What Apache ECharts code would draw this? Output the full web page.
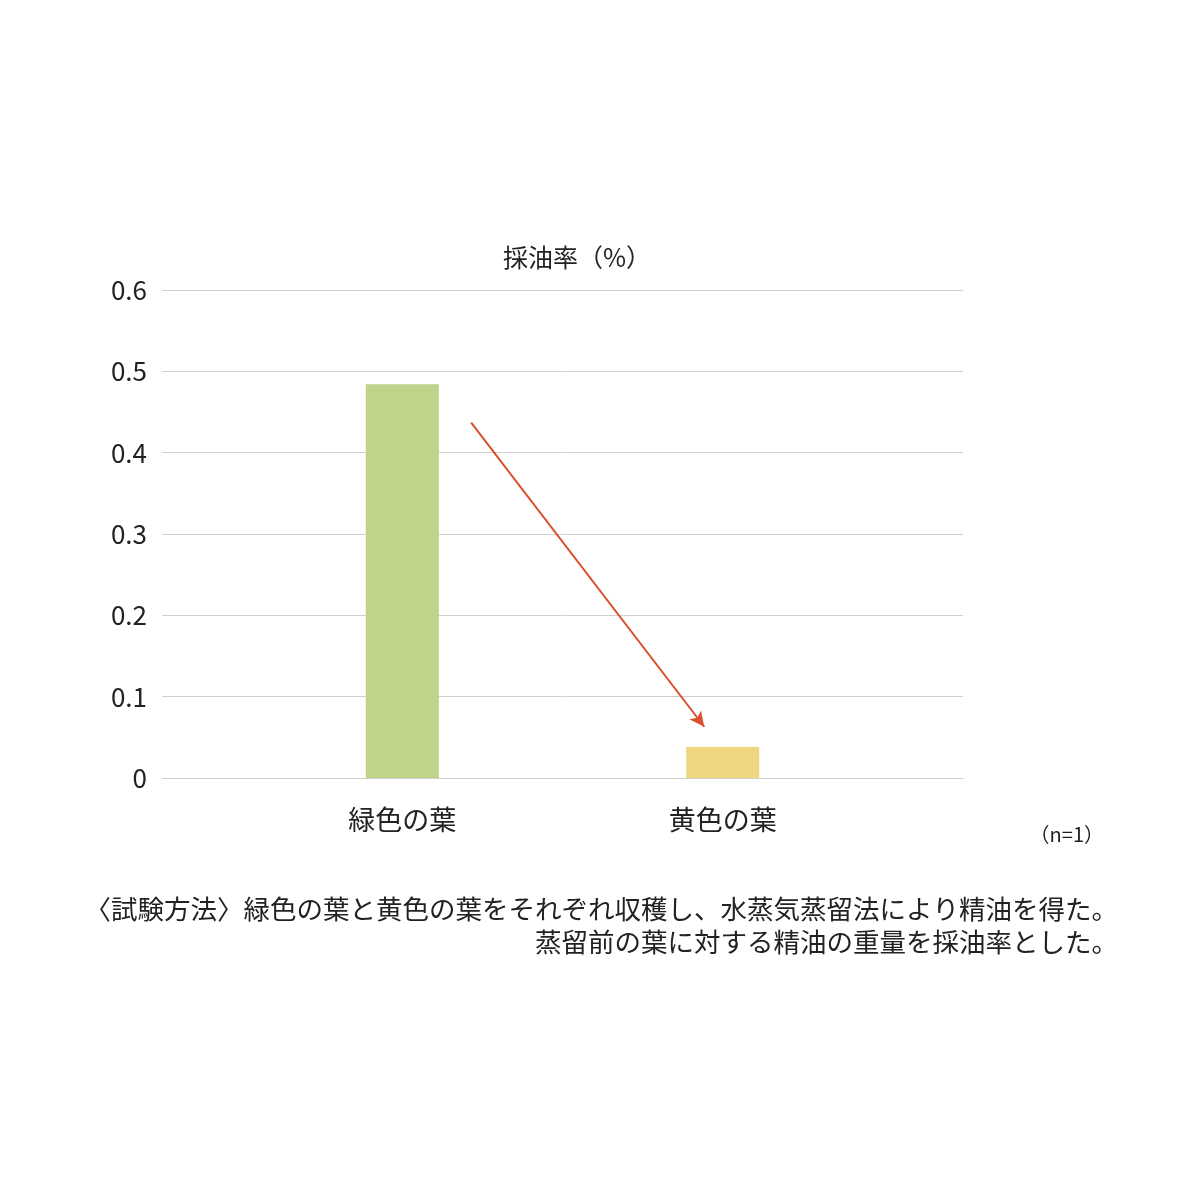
<!DOCTYPE html>
<html>
<head>
<meta charset="utf-8">
<script src="https://cdn.jsdelivr.net/npm/echarts@6/dist/echarts.min.js"></script>
<style>
html,body{margin:0;padding:0;background:#fff;}
#chart{width:1200px;height:1200px;}
</style>
</head>
<body>
<div id="chart"></div>
<script>
// ---- data ----
const categories = ['緑色の葉', '黄色の葉'];
const oilYield = [0.484, 0.038];
const barColors = ['#BFD38A', '#EFD680'];
const yTicks = [0, 0.1, 0.2, 0.3, 0.4, 0.5, 0.6];
const chartTitle = '採油率（%）';
const sampleNote = '（n=1）';
const footnoteLines = [
  '〈試験方法〉緑色の葉と黄色の葉をそれぞれ収穫し、水蒸気蒸留法により精油を得た。',
  '蒸留前の葉に対する精油の重量を採油率とした。'
];
// arrow (in value units of a hidden 0..5 x axis and the y axis)
const arrowStart = [1.93, 0.437];
const arrowEnd = [3.385, 0.063];

// padded category slots: blank, cat1, blank, cat2, blank
const slots = ['', categories[0], '', categories[1], ''];
const slotValues = [null, {value: oilYield[0], itemStyle: {color: barColors[0]}}, null,
                    {value: oilYield[1], itemStyle: {color: barColors[1]}}, null];

const FONT = '"Noto Sans CJK JP", "Noto Sans", sans-serif';
const chart = echarts.init(document.getElementById('chart'));
chart.setOption({
  backgroundColor: '#ffffff',
  animation: false,
  title: {
    text: chartTitle,
    left: 498,
    top: 240,
    textStyle: {fontFamily: FONT, fontSize: 25, fontWeight: 'normal', color: '#222'}
  },
  grid: {left: 162, right: 237, top: 290, bottom: 422, containLabel: false},
  xAxis: [{
    type: 'category',
    data: slots,
    axisLine: {show: true, lineStyle: {color: '#D0D0D0', width: 1}},
    axisTick: {show: false},
    axisLabel: {fontFamily: FONT, fontSize: 27, color: '#222', margin: 28, interval: 0},
    splitLine: {show: false}
  }, {
    type: 'value',
    min: 0, max: 5,
    show: false
  }],
  yAxis: {
    type: 'value',
    min: yTicks[0],
    max: yTicks[yTicks.length - 1],
    interval: 0.1,
    axisLine: {show: false},
    axisTick: {show: false},
    axisLabel: {fontFamily: FONT, fontSize: 26, color: '#222', margin: 15,
      formatter: v => (Math.round(v * 10) / 10).toString()},
    splitLine: {show: true, lineStyle: {color: '#D0D0D0', width: 1}}
  },
  series: [{
    type: 'bar',
    data: slotValues,
    barWidth: '45.6%',
    xAxisIndex: 0
  }, {
    type: 'line',
    xAxisIndex: 1,
    data: [],
    markLine: {
      silent: true,
      symbol: ['none', 'arrow'],
      symbolSize: [11, 15],
      label: {show: false},
      lineStyle: {color: '#D9502C', width: 2, type: 'solid'},
      data: [[{coord: arrowStart}, {coord: arrowEnd}]]
    }
  }],
  graphic: [{
    type: 'text',
    right: 96,
    top: 824,
    style: {text: sampleNote, font: '20px ' + FONT, fill: '#222'}
  }, {
    type: 'text',
    right: 82,
    top: 896,
    style: {text: footnoteLines[0], font: '26.5px ' + FONT, fill: '#222'}
  }, {
    type: 'text',
    right: 82,
    top: 929,
    style: {text: footnoteLines[1], font: '26.5px ' + FONT, fill: '#222'}
  }]
});
</script>
</body>
</html>
